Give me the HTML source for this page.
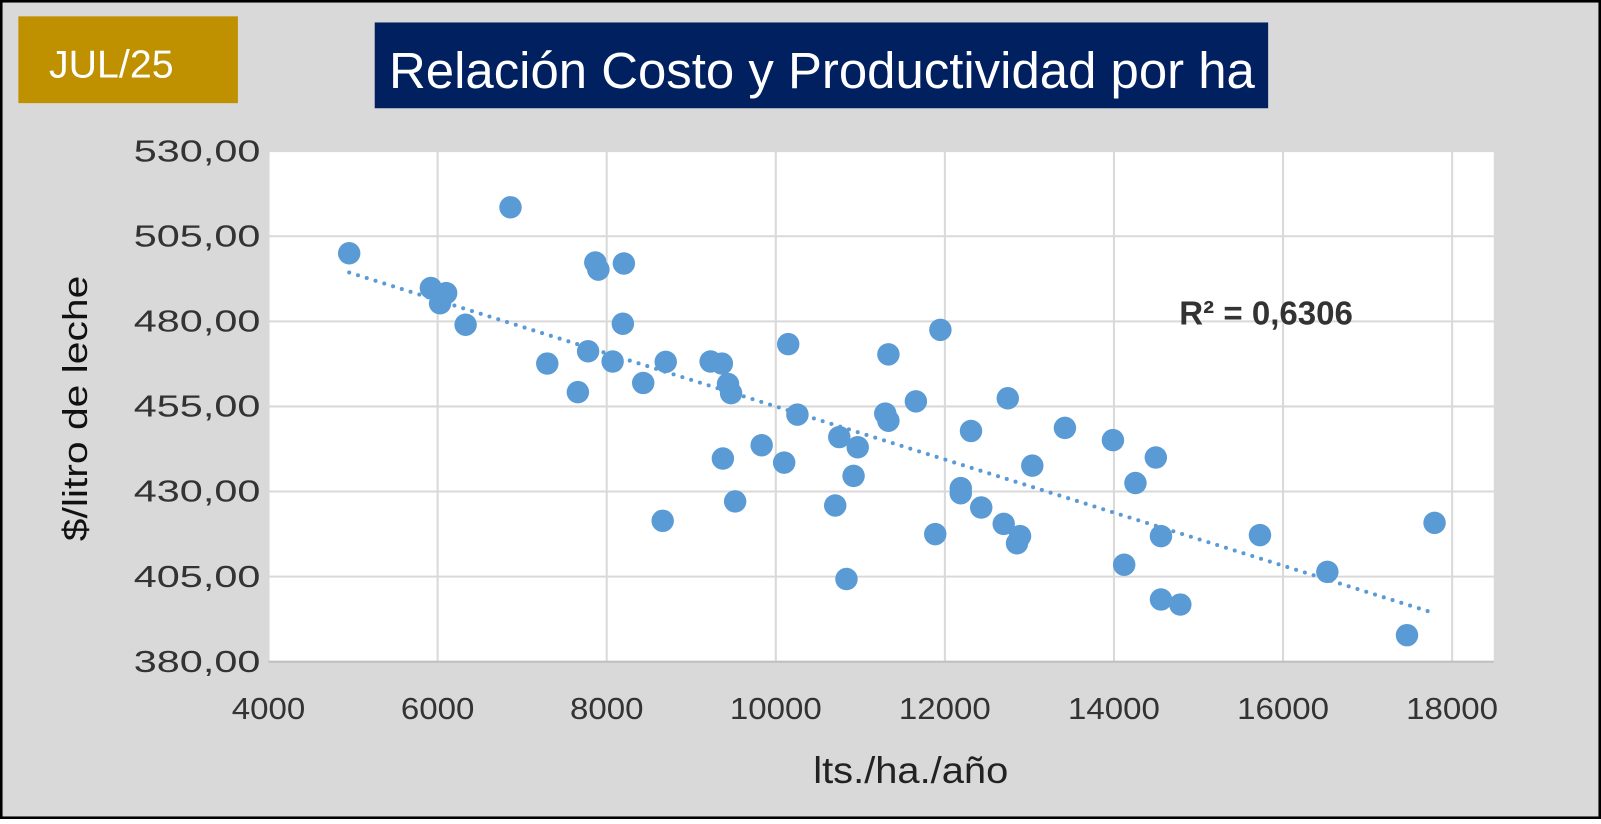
<!DOCTYPE html>
<html><head><meta charset="utf-8"><style>
html,body{margin:0;padding:0;}
body{width:1601px;height:819px;overflow:hidden;font-family:"Liberation Sans",sans-serif;}
</style></head><body>
<svg width="1601" height="819" viewBox="0 0 1568 802" preserveAspectRatio="none" xmlns="http://www.w3.org/2000/svg">
<rect x="1" y="1" width="1566" height="800" fill="#d9d9d9" stroke="#000" stroke-width="3"/>
<rect x="18" y="16" width="215" height="85" fill="#bf9000"/>
<text x="109" y="76" font-size="38" fill="#fff" text-anchor="middle" textLength="122" lengthAdjust="spacingAndGlyphs">JUL/25</text>
<rect x="367" y="22" width="875" height="84" fill="#002060"/>
<text x="805" y="86" font-size="50" fill="#fff" text-anchor="middle" textLength="848" lengthAdjust="spacingAndGlyphs">Relación Costo y Productividad por ha</text>
<rect x="263" y="148" width="1200" height="500" fill="#fff"/>
<g id="grid"></g>
<g id="trend"></g>
<g id="pts"></g>
<g id="axes"></g>
<text x="1240" y="318" font-size="33" font-weight="bold" fill="#333" text-anchor="middle" textLength="170" lengthAdjust="spacingAndGlyphs">R² = 0,6306</text>
<text x="892" y="767" font-size="36" fill="#222" text-anchor="middle" textLength="191" lengthAdjust="spacingAndGlyphs">lts./ha./año</text>
<text transform="translate(85,400) rotate(-90)" font-size="34" fill="#111" text-anchor="middle" textLength="260" lengthAdjust="spacingAndGlyphs">$/litro de leche</text>
</svg>
<script>
const xTicks=[4000,6000,8000,10000,12000,14000,16000,18000];
const yTicks=[380,405,430,455,480,505,530];
const xVals=[4954,6862,5920,6101,6029,6331,7297,7659,7780,7865,7901,8203,8191,8070,8432,8698,8662,9229,9362,9435,9471,9374,9519,9833,10099,10147,10256,10703,10751,10969,10920,10836,11295,11332,11332,11657,11947,11886,12188,12188,12309,12430,12696,12744,12889,12853,13034,13420,13988,14121,14254,14495,14556,14556,14785,15727,16524,17466,17792];
const yVals=[500,513.5,489.8,488.3,485.3,479,467.6,459.2,471.2,497.3,495.2,497,479.3,468.2,461.9,468.1,421.4,468.2,467.6,461.6,458.9,439.7,427.1,443.6,438.5,473.3,452.6,425.9,446,443,434.6,404.3,452.9,470.3,450.8,456.5,477.5,417.5,431,429.5,447.8,425.3,420.5,457.4,416.9,414.8,437.6,448.7,445.1,408.5,432.5,440,416.9,398.3,396.8,417.2,406.4,387.8,420.8];
const NS='http://www.w3.org/2000/svg';
const X=v=>263+(v-4000)*0.0828;
const Y=v=>648-(v-380)*(500/150);
function mk(t,a,p){const e=document.createElementNS(NS,t);for(const k in a)e.setAttribute(k,a[k]);document.getElementById(p).appendChild(e);return e;}
xTicks.forEach(t=>{
 const l=mk('line',{x1:X(t),x2:X(t),y1:148,y2:648,stroke:'#d9d9d9','stroke-width':2},'grid');
 
 
 const tx=mk('text',{x:X(t),y:704,'font-size':30,fill:'#333','text-anchor':'middle',textLength:String(t).length*18,lengthAdjust:'spacingAndGlyphs'},'axes');
 tx.textContent=t;
 
 
});
yTicks.forEach(t=>{
 const l=mk('line',{x1:263,x2:1463,y1:Y(t),y2:Y(t),stroke:'#d9d9d9','stroke-width':2},'grid');
 
 
 const tx=mk('text',{x:255,y:Y(t)+10,'font-size':30,fill:'#333','text-anchor':'end',textLength:124,lengthAdjust:'spacingAndGlyphs'},'axes');
 tx.textContent=t.toFixed(2).replace('.',',');
 
 
});
const ax=mk('line',{x1:263,x2:1463,y1:648,y2:648,stroke:'#bfbfbf','stroke-width':2},'axes');


const n=xVals.length;let sx=0,sy=0,sxx=0,sxy=0;
for(let i=0;i<n;i++){sx+=xVals[i];sy+=yVals[i];sxx+=xVals[i]*xVals[i];sxy+=xVals[i]*yVals[i];}
const b=(n*sxy-sx*sy)/(n*sxx-sx*sx),a=(sy-b*sx)/n;
const xmin=Math.min(...xVals),xmax=Math.max(...xVals);
const tl=mk('line',{x1:X(xmin),y1:Y(a+b*xmin),x2:X(xmax),y2:Y(a+b*xmax),stroke:'#5b9bd5','stroke-width':4,'stroke-dasharray':'0 9','stroke-linecap':'round'},'trend');


for(let i=0;i<n;i++){
 const c=mk('circle',{cx:X(xVals[i]),cy:Y(yVals[i]),r:11,fill:'#5b9bd5'},'pts');
 
 
}
</script>
</body></html>
